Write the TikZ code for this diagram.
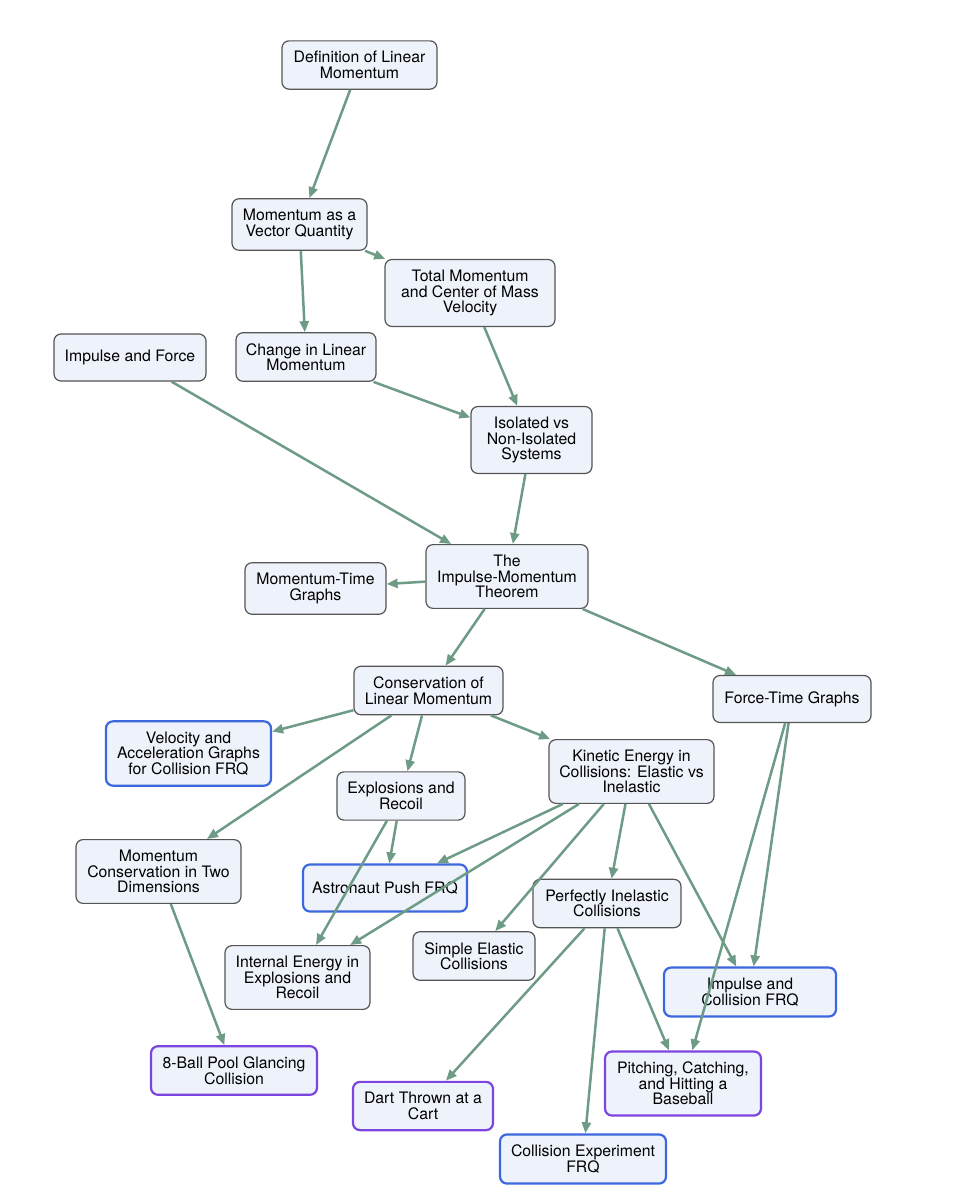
\documentclass[tikz,border=0pt]{standalone}
\usepackage{fontspec}
\setmainfont{TeX Gyre Heros}
\usepackage{xcolor}
\usepackage{tikz}
\usetikzlibrary{arrows.meta,positioning}

\definecolor{edgegreen}{HTML}{6E9B86}
\definecolor{boxfill}{HTML}{EEF2FB}
\definecolor{boxline}{HTML}{555555}
\definecolor{frqblue}{HTML}{3D68DD}
\definecolor{labpurple}{HTML}{7D45DF}

\begin{document}
\begin{tikzpicture}[
  on grid,
  topic/.style={rectangle, draw=boxline, line width=1.2pt, fill=boxfill, rounded corners=7pt, align=center, font=\fontsize{15.8}{15.5}\selectfont, inner xsep=6pt, inner ysep=10.5pt, minimum height=47pt},
  frq/.style={topic, draw=frqblue, line width=2.2pt},
  lab/.style={topic, draw=labpurple, line width=2.2pt},
  arrow/.style={-{Triangle[length=11pt,width=9pt]}, edgegreen, line width=2.5pt}
]
\useasboundingbox (0,0) rectangle (963pt,-1200pt);

% Top of the map
\node[topic, minimum width=155pt] (def) at (359.5pt,-65pt) {Definition of Linear\\Momentum};
\node[topic, minimum width=135pt, below=159.5pt of def, xshift=-60pt] (vector) {Momentum as a\\Vector Quantity};
\node[topic, minimum width=170pt, below=68.5pt of vector, xshift=170.5pt] (total) {Total Momentum\\and Center of Mass\\Velocity};
\node[topic, minimum width=140pt, below=132.5pt of vector, xshift=6.5pt] (change) {Change in Linear\\Momentum};
\node[topic, minimum width=152pt, left=176pt of change, yshift=-0.5pt] (impforce) {Impulse and Force};
\node[topic, minimum width=121pt, below=147pt of total, xshift=61.5pt] (isolated) {Isolated vs\\Non-Isolated\\Systems};

% Theorem and its branches
\node[topic, minimum width=162pt, below=136.5pt of isolated, xshift=-24.5pt] (theorem) {The\\Impulse-Momentum\\Theorem};
\node[topic, minimum width=141pt, left=191.5pt of theorem, yshift=-12pt] (mtgraphs) {Momentum-Time\\Graphs};
\node[topic, minimum width=149pt, below=114pt of theorem, xshift=-78.5pt] (conserve) {Conservation of\\Linear Momentum};
\node[topic, minimum width=158pt, below=122.5pt of theorem, xshift=285pt] (ftgraphs) {Force-Time Graphs};

% Conservation branch
\node[frq, minimum width=165pt, below=63pt of conserve, xshift=-240pt] (vagraphs) {Velocity and\\Acceleration Graphs\\for Collision FRQ};
\node[topic, minimum width=128pt, below=105.5pt of conserve, xshift=-27.5pt] (explosion) {Explosions and\\Recoil};
\node[topic, minimum width=165pt, below=81pt of conserve, xshift=203pt] (kinetic) {Kinetic Energy in\\Collisions: Elastic vs\\Inelastic};
\node[topic, minimum width=165pt, below=118pt of vagraphs, xshift=-30pt] (twodim) {Momentum\\Conservation in Two\\Dimensions};
\node[frq, minimum width=164pt, below=92pt of explosion, xshift=-16pt] (astronaut) {Astronaut Push FRQ};
\node[topic, minimum width=148pt, below=132pt of kinetic, xshift=-24.5pt] (perfect) {Perfectly Inelastic\\Collisions};
\node[topic, minimum width=122pt, below=52.5pt of perfect, xshift=-133pt] (elastic) {Simple Elastic\\Collisions};
\node[topic, minimum width=145pt, below=89.5pt of astronaut, xshift=-87.5pt] (internal) {Internal Energy in\\Explosions and\\Recoil};
\node[frq, minimum width=172pt, below=293pt of ftgraphs, xshift=-42pt] (collfrq) {Impulse and\\Collision FRQ};

% Labs and FRQs at the bottom
\node[lab, minimum width=166pt, below=199pt of twodim, xshift=75.5pt] (pool) {8-Ball Pool Glancing\\Collision};
\node[lab, minimum width=156pt, below=91.5pt of collfrq, xshift=-67pt] (baseball) {Pitching, Catching,\\and Hitting a\\Baseball};
\node[lab, minimum width=140pt, below=202.5pt of perfect, xshift=-184pt] (dart) {Dart Thrown at a\\Cart};
\node[frq, minimum width=166pt, below=255.5pt of perfect, xshift=-24pt] (experiment) {Collision Experiment\\FRQ};

% Arrows
\draw[arrow] (def) -- (vector);
\draw[arrow] (vector) -- (total);
\draw[arrow] (vector) -- (change);
\draw[arrow] (total) -- (isolated);
\draw[arrow] (change) -- (isolated);
\draw[arrow] (impforce) -- (theorem);
\draw[arrow] (isolated) -- (theorem);
\draw[arrow] (theorem) -- (mtgraphs);
\draw[arrow] (theorem) -- (conserve);
\draw[arrow] (theorem) -- (ftgraphs);
\draw[arrow] (conserve) -- (vagraphs);
\draw[arrow] (conserve) -- (twodim);
\draw[arrow] (conserve) -- (explosion);
\draw[arrow] (conserve) -- (kinetic);
\draw[arrow] (explosion) -- (astronaut);
\draw[arrow] (explosion) -- (internal);
\draw[arrow] (kinetic) -- (astronaut);
\draw[arrow] (kinetic) -- (internal);
\draw[arrow] (kinetic) -- (elastic);
\draw[arrow] (kinetic) -- (perfect);
\draw[arrow] (kinetic) -- (collfrq);
\draw[arrow] (ftgraphs) -- (collfrq);
\draw[arrow] (ftgraphs) -- (baseball);
\draw[arrow] (twodim) -- (pool);
\draw[arrow] (perfect) -- (dart);
\draw[arrow] (perfect) -- (experiment);
\draw[arrow] (perfect) -- (baseball);

\end{tikzpicture}
\end{document}
